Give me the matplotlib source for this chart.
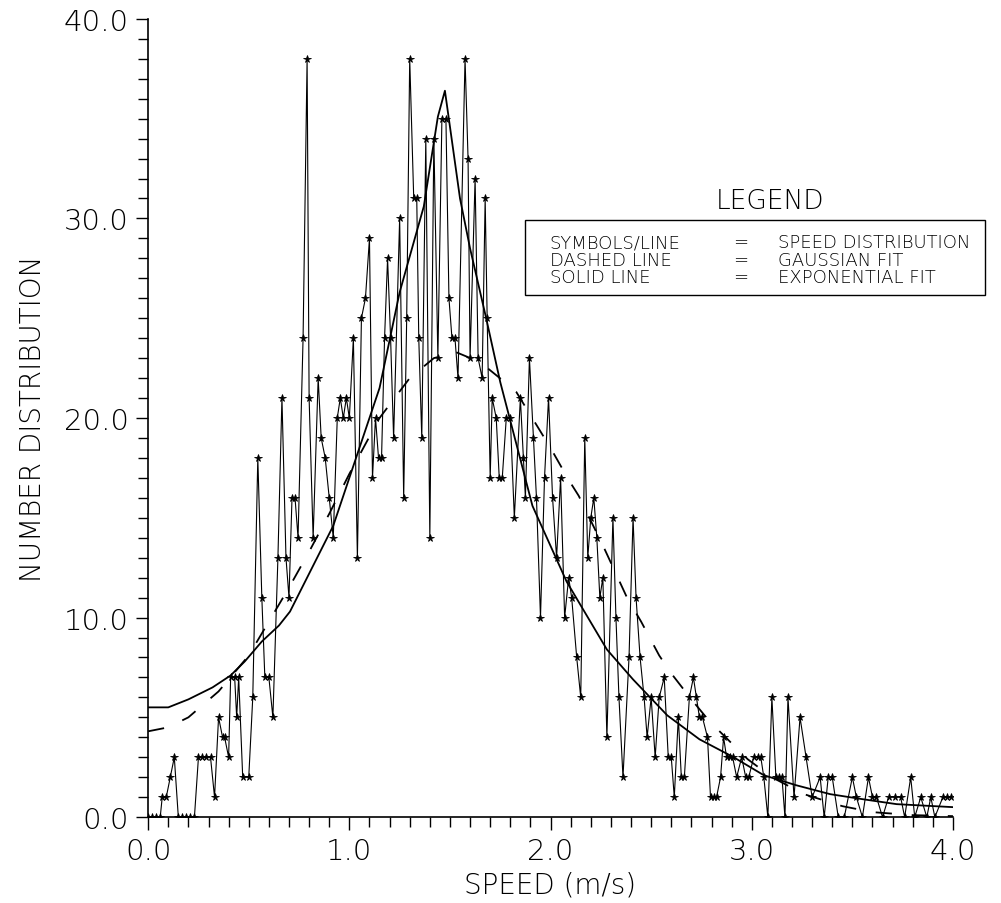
import matplotlib
matplotlib.use("Agg")
import matplotlib.pyplot as plt
from matplotlib.ticker import MultipleLocator, FormatStrFormatter
from matplotlib.patches import Rectangle

# measured speed distribution (symbols/line)
speed = [
    0.00, 0.02, 0.04, 0.06, 0.07, 0.09, 0.11, 0.13, 0.15, 0.17, 0.19, 0.21, 0.23, 0.25, 0.27, 0.29, 0.31, 0.33,
    0.35, 0.37, 0.38, 0.40, 0.41, 0.43, 0.44, 0.45, 0.47, 0.50, 0.52, 0.545, 0.565, 0.58, 0.60, 0.62, 0.645, 0.665, 0.685, 0.70,
    0.715, 0.73, 0.745, 0.77, 0.79, 0.80, 0.82, 0.845, 0.86, 0.88, 0.90, 0.92, 0.94, 0.955, 0.97, 0.985, 1.00, 1.02, 1.04, 1.06,
    1.08, 1.10, 1.115, 1.13, 1.145, 1.16, 1.175, 1.19, 1.205, 1.22, 1.25, 1.27, 1.285, 1.30, 1.32, 1.335, 1.345, 1.36, 1.38, 1.40,
    1.42, 1.44, 1.46, 1.48, 1.495, 1.51, 1.525, 1.54, 1.575, 1.59, 1.60, 1.625, 1.64, 1.66, 1.675, 1.685, 1.70, 1.71, 1.73, 1.745,
    1.76, 1.78, 1.80, 1.82, 1.85, 1.865, 1.875, 1.895, 1.915, 1.93, 1.95, 1.97, 1.99, 2.01, 2.03, 2.05, 2.07, 2.09, 2.105, 2.13,
    2.15, 2.17, 2.185, 2.20, 2.215, 2.23, 2.245, 2.26, 2.28, 2.31, 2.325, 2.34, 2.36, 2.39, 2.41, 2.425, 2.445, 2.465, 2.48, 2.50,
    2.52, 2.54, 2.565, 2.585, 2.60, 2.615, 2.635, 2.65, 2.665, 2.69, 2.71, 2.725, 2.74, 2.755, 2.78, 2.795, 2.81, 2.825, 2.845, 2.86,
    2.875, 2.89, 2.905, 2.925, 2.95, 2.97, 2.985, 3.01, 3.03, 3.045, 3.06, 3.08, 3.10, 3.12, 3.135, 3.15, 3.165, 3.18, 3.21, 3.24,
    3.27, 3.30, 3.34, 3.36, 3.38, 3.40, 3.43, 3.46, 3.50, 3.52, 3.55, 3.58, 3.60, 3.62, 3.65, 3.68, 3.71, 3.74, 3.76, 3.79,
    3.81, 3.84, 3.87, 3.89, 3.91, 3.95, 3.97, 3.99,
]
count = [
    0, 0, 0, 0, 1, 1, 2, 3, 0, 0, 0, 0, 0, 3, 3, 3, 3, 1,
    5, 4, 4, 3, 7, 7, 5, 7, 2, 2, 6, 18, 11, 7, 7, 5, 13, 21, 13, 11,
    16, 16, 14, 24, 38, 21, 14, 22, 19, 18, 16, 14, 20, 21, 20, 21, 20, 24, 13, 25,
    26, 29, 17, 20, 18, 18, 24, 28, 24, 19, 30, 16, 25, 38, 31, 31, 24, 19, 34, 14,
    34, 23, 35, 35, 26, 24, 24, 22, 38, 33, 23, 32, 23, 22, 31, 25, 17, 21, 20, 17,
    17, 20, 20, 15, 21, 18, 16, 23, 19, 16, 10, 17, 21, 16, 13, 17, 10, 12, 11, 8,
    6, 19, 13, 15, 16, 14, 11, 12, 4, 15, 10, 6, 2, 8, 15, 11, 8, 6, 4, 6,
    3, 6, 7, 3, 3, 1, 5, 2, 2, 6, 7, 6, 5, 5, 4, 1, 1, 1, 2, 4,
    3, 3, 3, 2, 3, 2, 2, 3, 3, 3, 2, 0, 6, 2, 2, 2, 0, 6, 1, 5,
    3, 1, 2, 0, 2, 2, 0, 0, 2, 1, 0, 2, 1, 1, 0, 1, 1, 1, 0, 2,
    0, 1, 0, 1, 0, 1, 1, 1,
]
assert len(speed) == len(count)

# gaussian fit (dashed)
gauss_x = [0.0, 0.1, 0.2, 0.35, 0.5, 0.6, 0.7, 0.8, 0.9, 1.0, 1.15, 1.3, 1.42, 1.53, 1.65, 1.76, 1.83,
           2.0, 2.09, 2.14, 2.27, 2.38, 2.45, 2.54, 2.6, 2.7, 2.79, 2.84, 2.98, 3.1, 3.26, 3.45, 3.6, 3.8, 4.0]
gauss_y = [4.3, 4.5, 5.0, 6.3, 8.1, 9.8, 11.5, 13.3, 15.2, 17.2, 20.0, 22.0, 23.0, 23.3, 22.8, 21.9, 21.3,
           18.5, 16.9, 16.1, 13.4, 11.0, 9.8, 8.1, 7.2, 5.9, 4.8, 4.3, 2.9, 2.0, 1.15, 0.55, 0.25, 0.1, 0.05]

# exponential fit (solid)
expo_x = [0.0, 0.1, 0.2, 0.32, 0.41, 0.48, 0.565, 0.65, 0.705, 0.8, 0.92, 1.04, 1.15, 1.25, 1.37, 1.44, 1.475,
          1.55, 1.6, 1.68, 1.75, 1.91, 2.08, 2.18, 2.28, 2.41, 2.58, 2.74, 2.91, 3.06, 3.22, 3.39, 3.55, 3.72, 4.0]
expo_y = [5.5, 5.5, 5.9, 6.5, 7.1, 7.8, 8.8, 9.6, 10.3, 12.2, 14.6, 18.2, 21.5, 26.3, 30.6, 35.1, 36.4,
          31.0, 28.5, 25.0, 21.8, 15.6, 11.8, 10.1, 8.4, 6.9, 5.1, 3.9, 3.0, 2.1, 1.6, 1.15, 0.9, 0.65, 0.5]

legend_rows = [("SYMBOLS/LINE", "SPEED DISTRIBUTION"),
               ("DASHED LINE", "GAUSSIAN FIT"),
               ("SOLID LINE", "EXPONENTIAL FIT")]

plt.rcParams["font.family"] = "DejaVu Sans"
fig = plt.figure(figsize=(10.01, 9.04), dpi=100)
ax = fig.add_axes([0.148, 0.095, 0.804, 0.883])

ax.plot(speed, count, color="black", lw=0.8, marker="*", ms=5.5, mew=0.6)
ax.plot(gauss_x, gauss_y, color="black", lw=1.3, dashes=(9, 11))
ax.plot(expo_x, expo_y, color="black", lw=1.3)

ax.set_xlim(0, 4.0)
ax.set_ylim(0, 40.0)
ax.xaxis.set_major_locator(MultipleLocator(1.0))
ax.xaxis.set_minor_locator(MultipleLocator(0.1))
ax.yaxis.set_major_locator(MultipleLocator(10.0))
ax.yaxis.set_minor_locator(MultipleLocator(1.0))
ax.xaxis.set_major_formatter(FormatStrFormatter("%.1f"))
ax.yaxis.set_major_formatter(FormatStrFormatter("%.1f"))
ax.tick_params(which="both", direction="out", width=1.0, labelsize=21, colors="black")
ax.tick_params(which="major", length=9, pad=5)
ax.tick_params(which="minor", length=7)
for lab in ax.get_xticklabels() + ax.get_yticklabels():
    lab.set_fontweight("light")
for s in ["top", "right"]:
    ax.spines[s].set_visible(False)
for s in ["left", "bottom"]:
    ax.spines[s].set_linewidth(1.2)

ax.set_xlabel("SPEED (m/s)", fontsize=20, labelpad=4, fontweight="light")
ax.set_ylabel("NUMBER DISTRIBUTION", fontsize=20, labelpad=12, fontweight="light")

# legend box drawn like the original plotter legend
fig.text(0.769, 0.777, "LEGEND", fontsize=19, ha="center", va="center", fontweight="light")
fig.patches.append(Rectangle((0.524, 0.673), 0.460, 0.082, transform=fig.transFigure,
                             fill=False, lw=1.0, edgecolor="black"))
for i, (left, right) in enumerate(legend_rows):
    yy = 0.731 - i * 0.0195
    fig.text(0.549, yy, left, fontsize=13, va="center", fontweight="light")
    fig.text(0.740, yy, "=", fontsize=13, va="center", ha="center", fontweight="light")
    fig.text(0.777, yy, right, fontsize=13, va="center", fontweight="light")

fig.savefig("out.png", dpi=100)
